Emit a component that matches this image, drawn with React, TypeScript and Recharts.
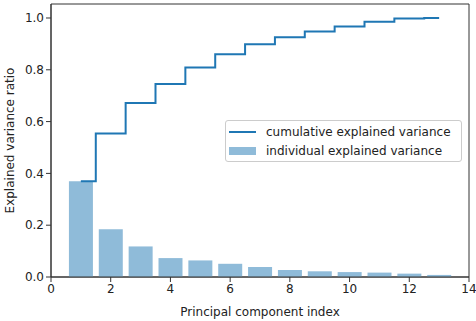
import { ComposedChart, Bar, Line, XAxis, YAxis, ReferenceArea } from "recharts";

const components = [1, 2, 3, 4, 5, 6, 7, 8, 9, 10, 11, 12, 13];
const individual = [0.37, 0.184, 0.118, 0.073, 0.064, 0.051, 0.039, 0.027, 0.022, 0.019, 0.017, 0.013, 0.008];
const cumulative = [0.37, 0.554, 0.672, 0.745, 0.809, 0.86, 0.899, 0.926, 0.948, 0.967, 0.985, 0.998, 1.0];
const xTicks = [0, 2, 4, 6, 8, 10, 12, 14];
const yTicks = [0, 0.2, 0.4, 0.6, 0.8, 1.0];

const data = components.map((pc, i) => ({ pc, ind: individual[i], cum: cumulative[i] }));

const font = "DejaVu Sans, sans-serif";
const blue = "#1f77b4";
const barBlue = "#8fbbd9";
const axisColor = "#333";
const textColor = "#222";

function LegendBox() {
  return (
    <div
      style={{
        position: "absolute",
        left: 225,
        top: 120,
        width: 235,
        height: 40,
        border: "1px solid #ccc",
        borderRadius: 3,
        background: "#fff",
        fontFamily: font,
        fontSize: 12,
        color: textColor,
      }}
    >
      <div style={{ display: "flex", alignItems: "center", height: 19, marginTop: 1 }}>
        <div style={{ width: 27, height: 2, background: blue, marginLeft: 3, marginRight: 10 }} />
        <span>cumulative explained variance</span>
      </div>
      <div style={{ display: "flex", alignItems: "center", height: 19 }}>
        <div style={{ width: 27, height: 8, background: barBlue, marginLeft: 3, marginRight: 10 }} />
        <span>individual explained variance</span>
      </div>
    </div>
  );
}

export default function App() {
  return (
    <div style={{ position: "absolute", left: 0, top: 0, width: 476, height: 321, background: "#fff" }}>
      <ComposedChart width={476} height={321} data={data} margin={{ top: 4, right: 7, left: 0, bottom: 0 }}>
        <XAxis
          dataKey="pc"
          type="number"
          domain={[0, 14]}
          ticks={xTicks}
          height={44}
          tickSize={5}
          stroke={axisColor}
          tick={{ fill: textColor, fontSize: 12, fontFamily: font }}
          label={{ value: "Principal component index", position: "insideBottom", offset: 5, fill: textColor, fontSize: 12, fontFamily: font }}
        />
        <YAxis
          type="number"
          domain={[0, 1.054]}
          ticks={yTicks}
          width={51}
          tickSize={5}
          stroke={axisColor}
          tickFormatter={(v: number) => v.toFixed(1)}
          tick={{ fill: textColor, fontSize: 12, fontFamily: font }}
          label={{ value: "Explained variance ratio", angle: -90, position: "insideLeft", offset: 10, fill: textColor, fontSize: 12, fontFamily: font, style: { textAnchor: "middle" } }}
        />
        <ReferenceArea x1={0} x2={14} y1={0} y2={1.054} fill="none" stroke={axisColor} strokeWidth={1} ifOverflow="extendDomain" />
        <Bar dataKey="ind" fill={barBlue} barSize={24} isAnimationActive={false} />
        <Line dataKey="cum" type="step" stroke={blue} strokeWidth={2} dot={false} isAnimationActive={false} />
      </ComposedChart>
      <LegendBox />
    </div>
  );
}
